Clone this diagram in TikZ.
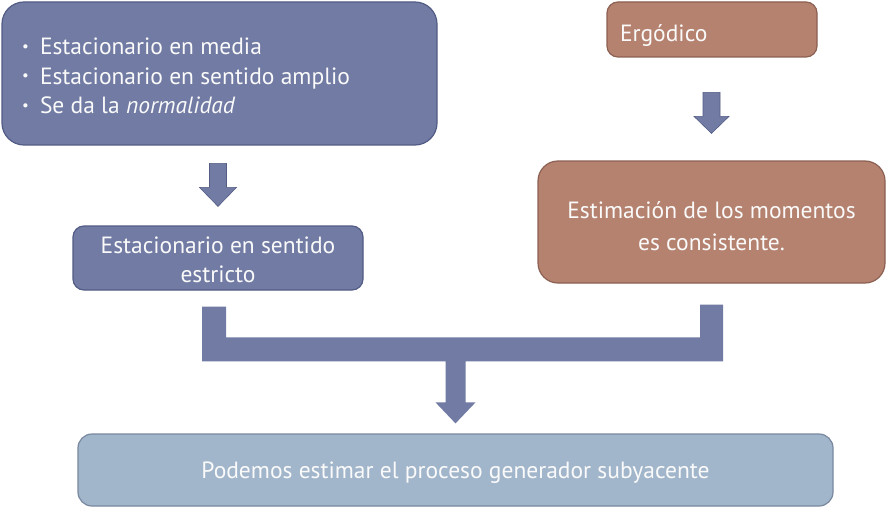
\documentclass[tikz,border=0pt]{standalone}
\usepackage{fontspec}
\setmainfont{PT Sans}
\usetikzlibrary{calc}
\definecolor{bfill}{RGB}{113,123,163}
\definecolor{bline}{RGB}{82,92,132}
\definecolor{rfill}{RGB}{181,130,112}
\definecolor{rline}{RGB}{140,96,82}
\definecolor{lfill}{RGB}{162,182,203}
\definecolor{lline}{RGB}{120,136,158}
\definecolor{txt}{RGB}{250,250,250}
\newcommand\mybullet{\makebox[18pt][l]{\raisebox{3.5pt}{\fontsize{15}{15}\selectfont\textbullet}}}
% #1 = raise of first baseline relative to node centre, #2 = width, #3 = baselineskip, #4 = alignment, #5 = text
\newcommand\boxtext[5]{\raisebox{#1}[0pt][0pt]{\parbox[t]{#2}{#4\baselineskip=#3 #5}}}
\tikzset{
  boxbase/.style={draw, line width=1.2pt, inner sep=0pt, text=txt, align=center,
    font=\fontsize{23.5}{30}\selectfont},
  bluebox/.style={boxbase, fill=bfill, draw=bline},
  brownbox/.style={boxbase, fill=rfill, draw=rline},
  lightbox/.style={boxbase, fill=lfill, draw=lline},
  blockarrow/.style={fill=bfill, draw=bline, line width=0.6pt},
  bracketarrow/.style={fill=bfill, draw=none},
}
\begin{document}
\begin{tikzpicture}[x=1pt,y=-1pt]
\useasboundingbox[fill=white] (0,0) rectangle (886,508);

% boxes
\node[bluebox, rounded corners=22pt, minimum width=435pt, minimum height=143pt] (tl) at (219.5,73.5)
  {\boxtext{18.5pt}{395pt}{29.5pt}{\raggedright}{\mybullet Estacionario en media\\
   \mybullet Estacionario en sentido amplio\\
   \mybullet Se da la \textit{normalidad}}};

\node[bluebox, rounded corners=11pt, minimum width=290pt, minimum height=64pt] (strict) at (218,258)
  {\boxtext{5pt}{280pt}{29pt}{\centering}{Estacionario en sentido\\estricto}};

\node[brownbox, rounded corners=11pt, minimum width=210pt, minimum height=55pt] (erg) at (712,29.5)
  {\boxtext{-12.5pt}{184pt}{30pt}{\raggedright}{Ergódico}};

\node[brownbox, rounded corners=20pt, minimum width=347pt, minimum height=122pt] (est) at (711.5,222)
  {\boxtext{3.5pt}{340pt}{32pt}{\centering}{Estimación de los momentos\\es consistente.}};

\node[lightbox, rounded corners=14pt, minimum width=755pt, minimum height=72pt] (res) at (455.5,470)
  {\boxtext{-8pt}{740pt}{30pt}{\centering}{Podemos estimar el proceso generador subyacente}};

% arrow: tl -> strict
\path let \p1=($(strict.north)+(0,-62)$), \p2=($(strict.north)+(0,-19)$) in
  [blockarrow] (\x1-8.5pt,\y1) -- (\x1+8.5pt,\y1) -- (\x1+8.5pt,\y2+19pt)
  -- (\x1+18.5pt,\y2+19pt) -- (\x2,\y2) -- (\x1-18.5pt,\y2+19pt)
  -- (\x1-8.5pt,\y2+19pt) -- cycle;

% arrow: erg -> est
\path let \p1=($(est.north)+(0,-68)$), \p2=($(est.north)+(0,-27)$) in
  [blockarrow] (\x1-8.5pt,\y1) -- (\x1+8.5pt,\y1) -- (\x1+8.5pt,\y2+17pt)
  -- (\x1+17.5pt,\y2+17pt) -- (\x2,\y2) -- (\x1-17.5pt,\y2+17pt)
  -- (\x1-8.5pt,\y2+17pt) -- cycle;

% bracket arrow: strict + est -> res
\coordinate (lt) at ($(strict.south)+(-4,16)$);
\coordinate (rt) at ($(est.south)+(0,21)$);
\coordinate (tip) at ($(res.north)+(0,-10)$);
\path let \p1=(lt), \p2=(rt), \p3=(tip) in
  [bracketarrow] (\x1-12pt,\y1) -- (\x1+12pt,\y1) -- (\x1+12pt,\y3+86pt)
  -- (\x2-11.5pt,\y3+86pt) -- (\x2-11.5pt,\y2) -- (\x2+11.5pt,\y2)
  -- (\x2+11.5pt,\y3+62pt) -- (\x3+10pt,\y3+62pt) -- (\x3+10pt,\y3+21pt)
  -- (\x3+20pt,\y3+21pt) -- (\x3,\y3) -- (\x3-20pt,\y3+21pt)
  -- (\x3-10pt,\y3+21pt) -- (\x3-10pt,\y3+62pt) -- (\x1-12pt,\y3+62pt) -- cycle;
\end{tikzpicture}
\end{document}
